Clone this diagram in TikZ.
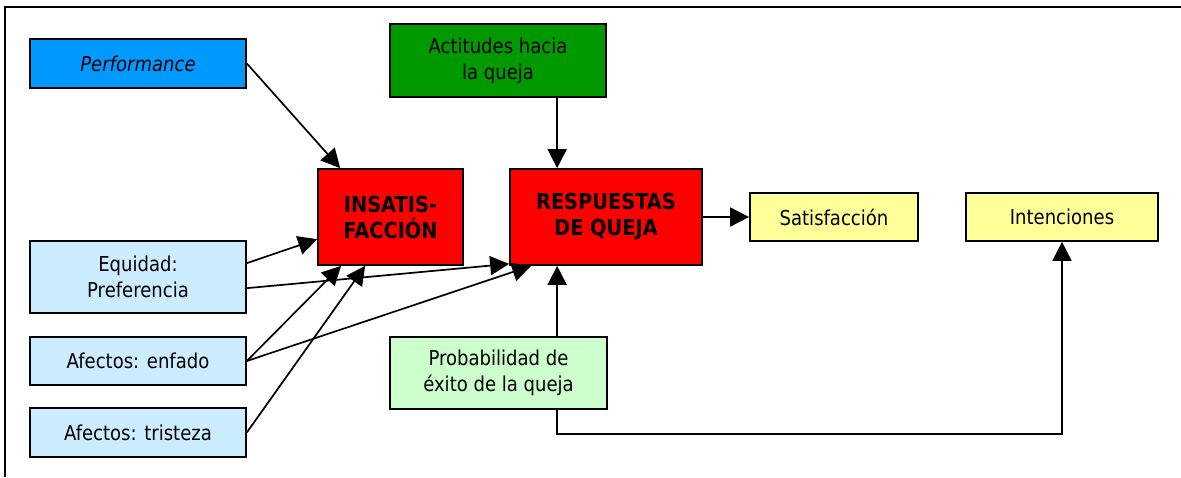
\documentclass[tikz,border=0pt]{standalone}
\usepackage{fontspec}
\setmainfont{DejaVu Sans}[FakeStretch=0.88]
\usetikzlibrary{arrows.meta,calc}
\definecolor{cPerf}{HTML}{0099FF}
\definecolor{cAct}{HTML}{009900}
\definecolor{cRed}{HTML}{FF0000}
\definecolor{cYel}{HTML}{FFFF99}
\definecolor{cLBlue}{HTML}{CCECFF}
\definecolor{cLGreen}{HTML}{CCFFCC}
\begin{document}
\begin{tikzpicture}[x=1pt,y=-1pt,
  box/.style={draw=black, line width=1.7pt, rectangle, inner sep=0pt, align=center,
    font=\fontsize{20.5}{26}\selectfont},
  boldbox/.style={box, font=\fontsize{22}{26}\selectfont\bfseries},
  arr/.style={draw=black, line width=1.7pt, -{Triangle[length=19pt,width=19pt]}}]
\useasboundingbox (0,0) rectangle (1181,477);
% frame
\draw[line width=1.7pt] (5,477) -- (5,7) -- (1181,7);
% nodes
\node[box, fill=cPerf, minimum width=216pt, minimum height=49pt] (perf) at (138,63.5) {\itshape Performance};
\node[box, fill=cAct, minimum width=216pt, minimum height=73pt] (act) at (498,60.5) {Actitudes hacia\\la queja};
\node[boldbox, fill=cRed, minimum width=145pt, minimum height=96pt] (ins) at (390.5,217) {INSATIS-\\FACCIÓN};
\node[boldbox, fill=cRed, minimum width=192pt, minimum height=96pt] (resp) at (606,217) {RESPUESTAS\\DE QUEJA};
\node[box, fill=cYel, minimum width=168pt, minimum height=48pt] (sat) at (834,217) {Satisfacción};
\node[box, fill=cYel, minimum width=192pt, minimum height=48pt] (int) at (1062,217) {Intenciones};
\node[box, fill=cLBlue, minimum width=216pt, minimum height=72pt] (eq) at (138,277) {Equidad:\\Preferencia};
\node[box, fill=cLBlue, minimum width=216pt, minimum height=48pt] (enf) at (138,361) {Afectos: enfado};
\node[box, fill=cLBlue, minimum width=216pt, minimum height=49pt] (tri) at (138,432.5) {Afectos: tristeza};
\node[box, fill=cLGreen, minimum width=217pt, minimum height=72pt] (prob) at (498.5,373) {Probabilidad de\\éxito de la queja};
% connectors
\draw[arr] (perf.east) -- ($(ins.north west)+(23,0)$);
\draw[arr] ($(act.south west)+(168,0)$) -- ($(resp.north west)+(48,0)$);
\draw[arr] (resp.east) -- (sat.west);
\draw[arr] ($(prob.north west)+(168,0)$) -- ($(resp.south west)+(48,0)$);
\draw[arr] ($(prob.south west)+(168,0)$) -- ++(0,24) -| (int.south);
\draw[arr] ($(eq.north east)+(0,23)$) -- ($(ins.north west)+(0,71)$);
\draw[arr] ($(eq.north east)+(0,48)$) -- ($(resp.south west)+(0,-2)$);
\draw[arr] (enf.east) -- ($(ins.south west)+(24,0)$);
\draw[arr] (enf.east) -- ($(resp.south west)+(22,0)$);
\draw[arr] (tri.east) -- ($(ins.south west)+(48,0)$);
\end{tikzpicture}
\end{document}
